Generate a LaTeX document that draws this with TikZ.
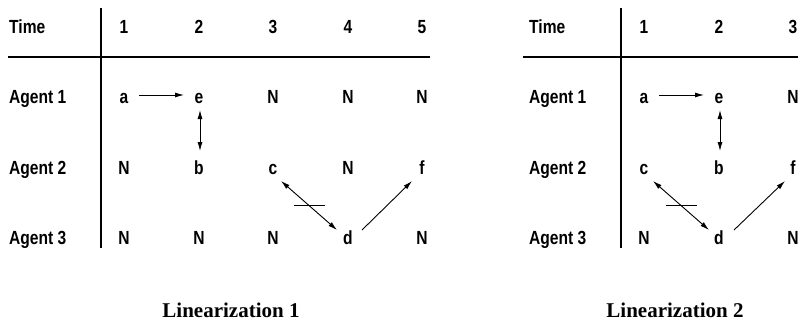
\documentclass[tikz,border=0pt]{standalone}
\usepackage{fontspec}
\newfontfamily\labfont{Liberation Sans}[FakeStretch=0.82]
\newfontfamily\capfont{Liberation Serif}
\usetikzlibrary{arrows.meta,calc}
\begin{document}
\begin{tikzpicture}[x=1pt,y=-1pt,
  lab/.style={font=\labfont\bfseries\fontsize{19}{22}\selectfont, inner sep=0pt},
  cell/.style={lab, anchor=base},
  rowlab/.style={lab, anchor=base west},
  rulel/.style={line width=2pt},
  arr/.style={line width=0.9pt, -{Latex[length=9pt,width=5pt]}},
  darr/.style={line width=0.9pt, {Latex[length=9pt,width=5pt]}-{Latex[length=9pt,width=5pt]}},
  barl/.style={line width=0.9pt},
  captxt/.style={font=\capfont\bfseries\fontsize{21}{24}\selectfont, inner sep=0pt, anchor=base}]
\useasboundingbox (0,0) rectangle (798,322);
\clip (0,0) rectangle (798,322);

% ---------- Table 1 ----------
\draw[rulel] (101,8) -- (101,248);
\draw[rulel] (8,57) -- (430,57);
\node[rowlab] (t1time) at (9,33) {Time};
\node[rowlab] (t1r1) at (9,103) {Agent 1};
\node[rowlab] (t1r2) at (9,174) {Agent 2};
\node[rowlab] (t1r3) at (9,244) {Agent 3};
\node[cell] (t1h1) at (124,33) {1};
\node[cell] (t1h2) at (199,33) {2};
\node[cell] (t1h3) at (273,33) {3};
\node[cell] (t1h4) at (348,33) {4};
\node[cell] (t1h5) at (422,33) {5};
% row 1
\node[cell] (a1) at (124,103) {a};
\node[cell] (e1) at (199,103) {e};
\node[cell] (t1n13) at (273,103) {N};
\node[cell] (t1n14) at (348,103) {N};
\node[cell] (t1n15) at (422,103) {N};
% row 2
\node[cell] (t1n21) at (124,174) {N};
\node[cell] (b1) at (199,174) {b};
\node[cell] (c1) at (273,174) {c};
\node[cell] (t1n24) at (348,174) {N};
\node[cell] (f1) at (422,174) {f};
% row 3
\node[cell] (t1n31) at (124,244) {N};
\node[cell] (t1n32) at (199,244) {N};
\node[cell] (t1n33) at (273,244) {N};
\node[cell] (d1) at (348,244) {d};
\node[cell] (t1n35) at (422,244) {N};
% connectors
\draw[arr] ([shift={(15,-8)}]a1.base) -- ([shift={(-15,-8)}]e1.base);
\draw[darr] ([shift={(1,7)}]e1.base) -- ([shift={(1,-23)}]b1.base);
\draw[darr] ([shift={(8,7)}]c1.base) -- coordinate[pos=0.5] (m1) ([shift={(-11,-14)}]d1.base);
\draw[barl] ([xshift=-15.5pt]m1) -- ([xshift=15.5pt]m1);
\draw[arr] ([shift={(14,-14)}]d1.base) -- ([shift={(-10,7)}]f1.base);
\node[captxt] (cap1) at (231,317) {Linearization 1};

% ---------- Table 2 ----------
\draw[rulel] (621,8) -- (621,248);
\draw[rulel] (523,57) -- (800,57);
\node[rowlab] (t2time) at (529,33) {Time};
\node[rowlab] (t2r1) at (529,103) {Agent 1};
\node[rowlab] (t2r2) at (529,174) {Agent 2};
\node[rowlab] (t2r3) at (529,244) {Agent 3};
\node[cell] (t2h1) at (644,33) {1};
\node[cell] (t2h2) at (719,33) {2};
\node[cell] (t2h3) at (793,33) {3};
% row 1
\node[cell] (a2) at (644,103) {a};
\node[cell] (e2) at (719,103) {e};
\node[cell] (t2n13) at (793,103) {N};
% row 2
\node[cell] (c2) at (644,174) {c};
\node[cell] (b2) at (719,174) {b};
\node[cell] (f2) at (793,174) {f};
% row 3
\node[cell] (t2n31) at (644,244) {N};
\node[cell] (d2) at (719,244) {d};
\node[cell] (t2n33) at (793,244) {N};
% connectors
\draw[arr] ([shift={(15,-8)}]a2.base) -- ([shift={(-15,-8)}]e2.base);
\draw[darr] ([shift={(1,7)}]e2.base) -- ([shift={(1,-23)}]b2.base);
\draw[darr] ([shift={(9,7)}]c2.base) -- coordinate[pos=0.5] (m2) ([shift={(-10,-14)}]d2.base);
\draw[barl] ([xshift=-15.5pt]m2) -- ([xshift=15.5pt]m2);
\draw[arr] ([shift={(15,-14)}]d2.base) -- ([shift={(-8,7)}]f2.base);
\node[captxt] (cap2) at (675,317) {Linearization 2};
\end{tikzpicture}
\end{document}
